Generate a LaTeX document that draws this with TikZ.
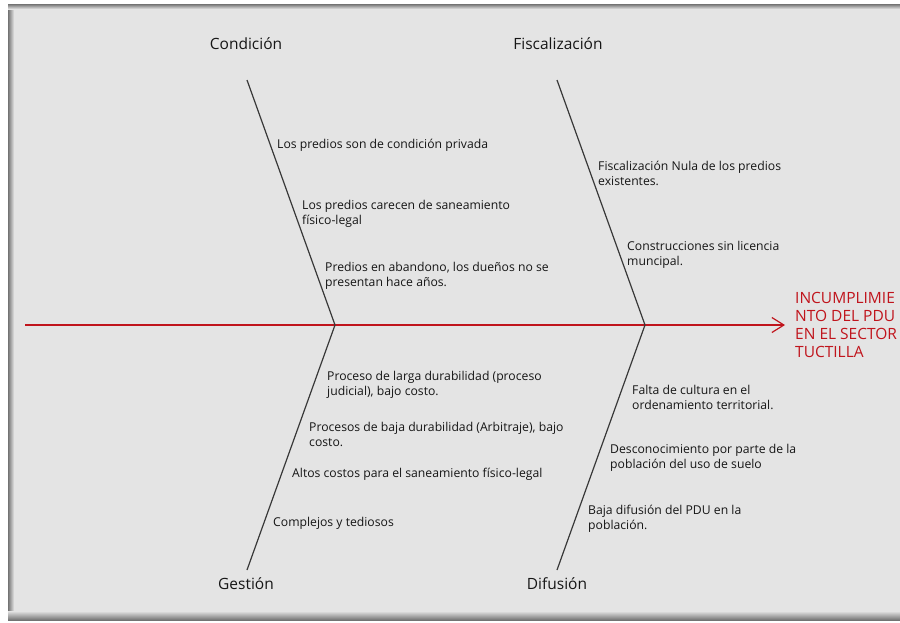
\documentclass[tikz,border=0pt]{standalone}
\usepackage{fontspec}
\setmainfont{Open Sans}
\usetikzlibrary{arrows.meta}
\definecolor{bg}{HTML}{E4E4E4}
\definecolor{ink}{HTML}{161616}
\definecolor{bone}{HTML}{383838}
\definecolor{alarm}{HTML}{C0141C}
\tikzset{ c/.style = { anchor = west % cause
, inner sep = 0pt
, align = left
, text = ink
, font = \fontsize{12.2}{15}\selectfont
}
, h/.style = { inner sep = 0pt % header of a bone
, text = ink
, font = \fontsize{15.5}{18}\selectfont
}
, b/.style = { draw = bone % bone
, line width = 1.2pt
}
, e/.style = { anchor = west % effect
, inner xsep = 10pt
, inner ysep = 0pt
, align = left
, text = alarm
, font = \fontsize{15.5}{18.3}\selectfont
}
}
\begin{document}
\begin{tikzpicture}[x=1pt, y=-1pt]
                    \useasboundingbox (0,0) rectangle (900,622);
                    % frame
                    \fill[white] (0,0) rectangle (900,622);
                    \fill[bg] (8,4) rectangle (900,620);
                    \shade[left color=gray!90!black, right color=bg] (8,4) rectangle (14,620);
                    \shade[top color=gray!90!black, bottom color=bg] (8,4) rectangle (900,9);
                    \shade[top color=bg, bottom color=gray!90!black] (8,611) rectangle (900,620);

                    % spine
                    \coordinate (tail) at (25,325);
                    \coordinate (jl) at (335,325);
                    \coordinate (jr) at (645,325);
                    \node[e] (effect) at (785,325) {INCUMPLIMIE\\NTO DEL PDU\\EN EL SECTOR\\TUCTILLA};
                    \draw[alarm, line width=1.3pt, -{Straight Barb[length=12pt, width=15pt, line width=1.2pt]}] (tail) -- (effect.west);

                    % bones
                    \foreach[count=\n] \x/\y/\t in {246/44/Condición, 558/44/Fiscalización, 246/584/Gestión, 557/584/Difusión}
                        \node[h] (h\n) at (\x,\y) {\t};
                    \coordinate (t1) at (247,80);
                    \coordinate (t2) at (557,80);
                    \coordinate (t3) at (247,570);
                    \coordinate (t4) at (557,570);
                    \draw[b] (t1) -- (jl) -- (t3);
                    \draw[b] (t2) -- (jr) -- (t4);

                    % causes
                    \foreach[count=\n] \x/\y/\t in {
                        277/145.5/{Los predios son de condición privada},
                        302/214/{Los predios carecen de saneamiento\\físico-legal},
                        325/275.5/{Predios en abandono, los dueños no se\\presentan hace años.},
                        598/173.5/{Fiscalización Nula de los predios\\existentes.},
                        627/255/{Construcciones sin licencia\\muncipal.},
                        327/385/{Proceso de larga durabilidad (proceso\\judicial), bajo costo.},
                        309/434/{Procesos de baja durabilidad (Arbitraje), bajo\\costo.},
                        292/474.5/{Altos costos para el saneamiento físico-legal},
                        273/523.5/{Complejos y tediosos},
                        632/397/{Falta de cultura en el\\ordenamiento territorial.},
                        610/458/{Desconocimiento por parte de la\\población del uso de suelo},
                        588/519/{Baja difusión del PDU en la\\población.}}
                        \node[c] (c\n) at (\x,\y) {\t};
                \end{tikzpicture}
\end{document}
